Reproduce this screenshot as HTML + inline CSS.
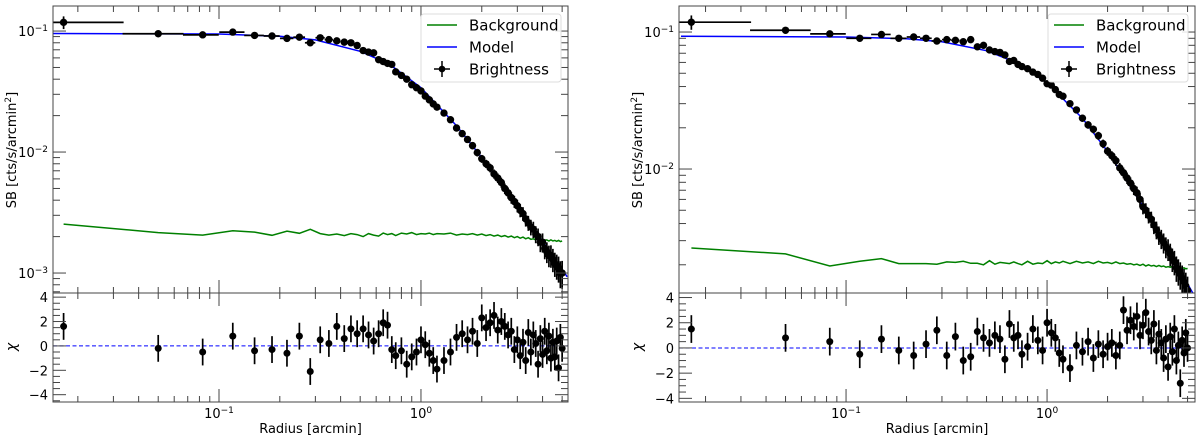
<!DOCTYPE html>
<html><head><meta charset="utf-8"><style>
html,body{margin:0;padding:0;background:#fff;}
svg{display:block;font-family:"DejaVu Sans","Liberation Sans",sans-serif;}
</style></head><body>
<svg id="chart" width="1200" height="438" viewBox="0 0 1200 438" xmlns="http://www.w3.org/2000/svg"></svg>
<script>
// ---- data ----
const radii = [0.017,0.05,0.083,0.117,0.15,0.183,0.217,0.25,0.283,0.317,0.35,0.383,0.417,0.45,0.483,0.517,0.55,0.583,0.617,0.65,0.683,0.717,0.75,0.8,0.85,0.9,0.95,1.0,1.05,1.1,1.15,1.2,1.3,1.4,1.5,1.6,1.7,1.8,1.9,2.0,2.1,2.2,2.3,2.4,2.5,2.6,2.7,2.8,2.9,3.0,3.1,3.2,3.3,3.4,3.5,3.6,3.7,3.8,3.9,4.0,4.1,4.2,4.3,4.4,4.5,4.6,4.7,4.8,4.9,5.0];
const sbLeft = [0.118,0.095,0.093,0.098,0.092,0.091,0.087,0.089,0.080,0.088,0.085,0.083,0.081,0.080,0.076,0.069,0.067,0.066,0.058,0.056,0.054,0.053,0.046,0.043,0.040,0.036,0.034,0.032,0.029,0.027,0.025,0.0235,0.021,0.0185,0.0158,0.0142,0.0127,0.0113,0.0099,0.0088,0.0080,0.0074,0.0066,0.0061,0.0056,0.0050,0.0046,0.0042,0.0039,0.0036,0.0033,0.0031,0.0028,0.0026,0.0024,0.0023,0.0021,0.0020,0.0018,0.0018,0.0016,0.0015,0.0014,0.0014,0.0013,0.0012,0.00115,0.0011,0.0010,0.0010];
const sbRight = [0.118,0.103,0.097,0.090,0.096,0.090,0.092,0.090,0.086,0.088,0.087,0.085,0.088,0.078,0.080,0.074,0.072,0.071,0.068,0.061,0.062,0.058,0.056,0.054,0.051,0.049,0.046,0.042,0.041,0.038,0.035,0.034,0.030,0.027,0.0235,0.021,0.0195,0.0175,0.0153,0.0135,0.0125,0.0115,0.0102,0.0094,0.0086,0.0079,0.0072,0.0067,0.0060,0.0053,0.0050,0.0046,0.0043,0.0039,0.0036,0.0033,0.0031,0.0029,0.0027,0.0026,0.0024,0.0022,0.0021,0.0019,0.0018,0.0017,0.0016,0.0015,0.0014,0.0013];
const chiLeft = [1.6,-0.2,-0.5,0.8,-0.4,-0.3,-0.6,0.8,-2.1,0.5,0.2,1.6,0.6,1.4,1.0,1.4,0.9,0.4,1.0,1.9,1.7,-0.3,-0.8,-0.4,-1.5,-0.9,-0.5,0.5,0.1,-0.6,-1.2,-1.9,-1.2,-0.5,0.7,1.0,0.5,1.2,0.2,2.3,1.5,1.9,2.5,1.3,2.0,1.6,0.9,1.2,-0.3,0.5,-0.8,0.3,-1.2,1.1,-0.5,0.9,0.2,-1.5,0.6,-0.7,1.2,-0.4,0.8,-1.0,0.3,-0.9,0.4,-1.8,0.7,-0.2];
const chiRight = [1.5,0.8,0.5,-0.5,0.7,-0.2,-0.6,0.3,1.4,-0.6,0.9,-1.0,-0.7,1.3,0.8,0.4,1.0,0.7,-0.9,1.9,0.8,1.0,-0.5,0.1,1.5,0.6,-0.2,2.0,1.2,0.8,-0.4,-0.9,-1.6,0.2,-0.3,0.5,-0.8,0.3,-0.5,0.1,0.4,-0.6,0.2,3.0,1.4,2.2,1.7,2.5,1.0,1.8,2.8,1.3,0.6,1.9,-0.2,1.1,0.4,-0.8,0.7,-1.5,0.9,-0.3,1.5,-1.0,0.2,-2.8,0.6,-0.4,1.2,0.0];
const bgLeft = [0.00254,0.00216,0.00206,0.00224,0.00218,0.00205,0.00222,0.00213,0.00230,0.00212,0.00206,0.00210,0.00204,0.00212,0.00208,0.00200,0.00212,0.00206,0.00202,0.00214,0.00208,0.00212,0.00204,0.00214,0.00210,0.00216,0.00208,0.00212,0.00210,0.00214,0.00208,0.00212,0.00210,0.00214,0.00206,0.00210,0.00208,0.00212,0.00206,0.00210,0.00204,0.00208,0.00202,0.00206,0.00200,0.00204,0.00198,0.00202,0.00196,0.00200,0.00194,0.00198,0.00192,0.00196,0.00190,0.00192,0.00188,0.00194,0.00186,0.00190,0.00186,0.00188,0.00184,0.00188,0.00184,0.00186,0.00183,0.00186,0.00182,0.00184];
const bgRight = [0.00265,0.00240,0.00196,0.00212,0.00222,0.00204,0.00204,0.00204,0.00202,0.00210,0.00208,0.00212,0.00205,0.00205,0.00200,0.00214,0.00202,0.00208,0.00206,0.00204,0.00210,0.00204,0.00200,0.00212,0.00202,0.00206,0.00204,0.00214,0.00204,0.00210,0.00206,0.00212,0.00204,0.00212,0.00206,0.00210,0.00204,0.00212,0.00206,0.00208,0.00204,0.00210,0.00204,0.00206,0.00202,0.00204,0.00200,0.00202,0.00198,0.00202,0.00196,0.00200,0.00196,0.00198,0.00194,0.00198,0.00194,0.00196,0.00192,0.00194,0.00192,0.00194,0.00190,0.00192,0.00189,0.00190,0.00188,0.00190,0.00187,0.00188];
const modelR = [0.0151,0.1,0.2,0.3,0.5,0.7,1.0,1.5,2.0,3.0,4.0,5.3];
const modelLeft = [0.0955,0.0945,0.0905,0.0845,0.068,0.053,0.034,0.0165,0.0090,0.00362,0.00184,0.00093];
const modelRight = [0.0930,0.0920,0.0892,0.0849,0.0731,0.0600,0.0425,0.0234,0.01344,0.00534,0.0026,0.00125];
const chiTicks = [-4,-2,0,2,4];

const NS = "http://www.w3.org/2000/svg";
const svg = document.getElementById('chart');
function mk(tag, attrs, parent){
  const e = document.createElementNS(NS, tag);
  for (const k in attrs) e.setAttribute(k, attrs[k]);
  (parent||svg).appendChild(e);
  return e;
}
function sup(parent, x, y, base, exp, anchor, name){
  const t = mk('text', {x:x, y:y, 'font-size':13, 'text-anchor':anchor, fill:'#000'}, parent);
  
  
  const a = document.createElementNS(NS,'tspan'); a.textContent = base; t.appendChild(a);
  const b = document.createElementNS(NS,'tspan'); b.setAttribute('dy','-5'); b.setAttribute('font-size','9'); b.textContent = exp; t.appendChild(b);
  return t;
}

function panel(cfg, sb, bg, model, chi, side){
  const g = mk('g', {});
  
  
  const L=cfg.L, R=cfg.R, T=6, M=293, B=402;
  const X = r => L + (Math.log10(r) - cfg.xmin) / (cfg.xmax - cfg.xmin) * (R - L);
  const Y = v => T + (cfg.ymax - Math.log10(v)) / (cfg.ymax - cfg.ymin) * (M - T);
  const C = c => M + (cfg.cmax - c) / (cfg.cmax - cfg.cmin) * (B - M);

  const clip = mk('clipPath', {id:'clipT'+side}, g);
  mk('rect', {x:L, y:T, width:R-L, height:M-T}, clip);
  const clip2 = mk('clipPath', {id:'clipB'+side}, g);
  mk('rect', {x:L, y:M, width:R-L, height:B-M}, clip2);

  const top = mk('g', {'clip-path':'url(#clipT'+side+')'}, g);
  const bgp = mk('polyline', {points: radii.map((r,i)=>X(r).toFixed(1)+','+Y(bg[i]).toFixed(1)).join(' '), fill:'none', stroke:'#008000', 'stroke-width':1.5}, top);
  
  
  const mp = mk('polyline', {points: modelR.map((r,i)=>X(r).toFixed(1)+','+Y(model[i]).toFixed(1)).join(' '), fill:'none', stroke:'#0000ff', 'stroke-width':1.5}, top);
  
  
  radii.forEach((r,i)=>{
    const v = sb[i];
    const rel = i===0 ? 0.12 : 0.04 + 0.22*(r/5)*(r/5);
    const x = X(r), y = Y(v);
    const pg = mk('g', {}, top);
    
    
    mk('line', {x1:X(Math.max(r-0.0167,0.001)), x2:X(r+0.0167), y1:y, y2:y, stroke:'#000', 'stroke-width':1.7}, pg);
    mk('line', {x1:x, x2:x, y1:Y(v*(1+rel)), y2:Y(v*(1-rel)), stroke:'#000', 'stroke-width':1.7}, pg);
    mk('circle', {cx:x, cy:y, r:3.7, fill:'#000'}, pg);
  });

  const bot = mk('g', {'clip-path':'url(#clipB'+side+')'}, g);
  const zl = mk('line', {x1:L, x2:R, y1:C(0), y2:C(0), stroke:'#0000ff', 'stroke-width':1, 'stroke-dasharray':'4,2.5'}, bot);
  
  
  radii.forEach((r,i)=>{
    const x = X(r), y = C(chi[i]);
    const pg = mk('g', {}, bot);
    
    
    mk('line', {x1:x, x2:x, y1:C(chi[i]+1.1), y2:C(chi[i]-1.1), stroke:'#000', 'stroke-width':1.7}, pg);
    mk('circle', {cx:x, cy:y, r:3.5, fill:'#000'}, pg);
  });

  const f1 = mk('rect', {x:L, y:T, width:R-L, height:M-T, fill:'none', stroke:'#444', 'stroke-width':1}, g);
  
  
  const f2 = mk('rect', {x:L, y:M, width:R-L, height:B-M, fill:'none', stroke:'#444', 'stroke-width':1}, g);
  
  

  const tk = mk('g', {stroke:'#444', 'stroke-width':1}, g);
  const xt = [];
  for (let d=-2; d<=0; d++) for (let m=1; m<=9; m++){ const r=m*Math.pow(10,d); const lr=Math.log10(r); if (lr>=cfg.xmin && lr<=cfg.xmax) xt.push([r, m===1]); }
  xt.forEach(([r,maj])=>{
    const x=X(r), len = maj?13:6;
    [[T,1],[M,-1],[M,1],[B,-1]].forEach(([yy,dir])=>{
      mk('line', {x1:x, x2:x, y1:yy, y2:yy+dir*len}, tk);
    });
  });
  for (let d=-4; d<=-1; d++) for (let m=1; m<=9; m++){
    const v=m*Math.pow(10,d), lv=Math.log10(v);
    if (lv<cfg.ymin || lv>cfg.ymax) continue;
    const y=Y(v), len = m===1?13:7;
    mk('line', {x1:L, x2:L+len, y1:y, y2:y}, tk);
    mk('line', {x1:R, x2:R-len, y1:y, y2:y}, tk);
    if (m===1) sup(g, L-5, y+5, '10', '\u2212'+(-d), 'end', 'y-tick-label');
  }
  for (let c=-4.5; c<=4.01; c+=0.5){
    if (c<cfg.cmin || c>cfg.cmax) continue;
    const y=C(c), maj = Math.abs(c%2)<1e-9, len = maj?13:7;
    mk('line', {x1:L, x2:L+len, y1:y, y2:y}, tk);
    mk('line', {x1:R, x2:R-len, y1:y, y2:y}, tk);
  }
  chiTicks.forEach(c=>{
    const t = mk('text', {x:L-5, y:C(c)+5, 'font-size':13, 'text-anchor':'end', fill:'#000'}, g);
    t.textContent = c<0 ? '\u2212'+(-c) : String(c);
    
    
  });
  sup(g, X(0.1), 418, '10', '\u22121', 'middle', 'x-tick-label');
  sup(g, X(1), 418, '10', '0', 'middle', 'x-tick-label');
  const xtitle = mk('text', {x:(L+R)/2, y:433, 'font-size':13, 'text-anchor':'middle', fill:'#000'}, g);
  xtitle.textContent = 'Radius [arcmin]';
  
  
  const yt = mk('text', {x:0, y:0, 'font-size':13, 'text-anchor':'middle', fill:'#000', transform:'translate('+(L-37)+',150) rotate(-90)'}, g);
  
  
  const a = document.createElementNS(NS,'tspan'); a.textContent='SB [cts/s/arcmin'; yt.appendChild(a);
  const b = document.createElementNS(NS,'tspan'); b.setAttribute('dy','-5'); b.setAttribute('font-size','9'); b.textContent='2'; yt.appendChild(b);
  const c2 = document.createElementNS(NS,'tspan'); c2.setAttribute('dy','5'); c2.textContent=']'; yt.appendChild(c2);
  const ct = mk('text', {x:0, y:0, 'font-size':14, 'text-anchor':'middle', fill:'#000', 'font-style':'italic', transform:'translate('+(L-37)+',347) rotate(-90)'}, g);
  ct.textContent = '\u03c7';
  
  

  const lx = cfg.legX;
  const lg = mk('g', {}, g);
  
  
  mk('rect', {x:lx, y:14, width:140, height:68, rx:3, fill:'#fff', 'fill-opacity':0.85, stroke:'#ddd', 'stroke-width':1}, lg);
  const entries = [['Background','#008000'],['Model','#0000ff'],['Brightness','#000']];
  entries.forEach(([name,col],i)=>{
    const y = 25 + i*22;
    const eg = mk('g', {}, lg);
    
    
    if (i<2) mk('line', {x1:lx+6, x2:lx+36, y1:y, y2:y, stroke:col, 'stroke-width':1.5}, eg);
    else { mk('line', {x1:lx+13, x2:lx+29, y1:y, y2:y, stroke:'#000', 'stroke-width':1.5}, eg);
           mk('line', {x1:lx+21, x2:lx+21, y1:y-8, y2:y+8, stroke:'#000', 'stroke-width':1.5}, eg);
           mk('circle', {cx:lx+21, cy:y, r:3.3, fill:'#000'}, eg); }
    const t = mk('text', {x:lx+48, y:y+5.5, 'font-size':15, fill:'#000'}, eg);
    t.textContent = name;
  });
}

panel({L:53, R:568, xmin:-1.822, xmax:0.728, ymin:-3.165, ymax:-0.793, cmin:-4.6, cmax:4.34, legX:421},
      sbLeft, bgLeft, modelLeft, chiLeft, 'left');
panel({L:679, R:1195, xmin:-1.831, xmax:0.736, ymin:-2.905, ymax:-0.81, cmin:-4.29, cmax:4.36, legX:1048},
      sbRight, bgRight, modelRight, chiRight, 'right');
</script>
</body></html>
